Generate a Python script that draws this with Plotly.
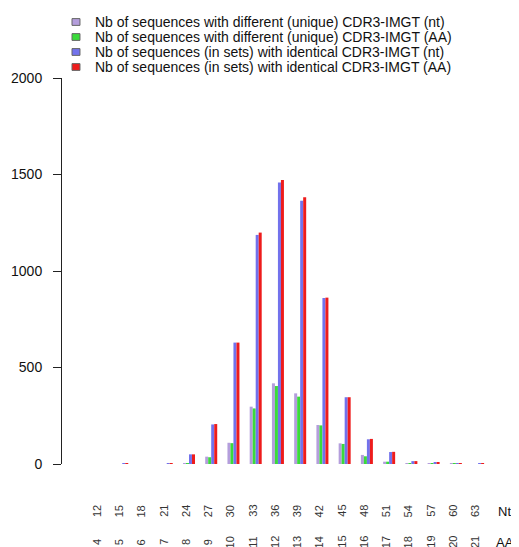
import plotly.graph_objects as go

nt_labels = [12, 15, 18, 21, 24, 27, 30, 33, 36, 39, 42, 45, 48, 51, 54, 57, 60, 63]
aa_labels = [4, 5, 6, 7, 8, 9, 10, 11, 12, 13, 14, 15, 16, 17, 18, 19, 20, 21]

unique_nt = [0, 0, 0, 0, 5, 38, 110, 297, 418, 366, 202, 107, 47, 12, 3, 2, 2, 0]
unique_aa = [0, 0, 0, 0, 5, 35, 108, 288, 404, 349, 200, 104, 40, 12, 3, 2, 2, 0]
sets_nt = [0, 1, 0, 1, 50, 205, 629, 1187, 1458, 1364, 860, 346, 128, 62, 15, 6, 4, 1]
sets_aa = [0, 1, 0, 1, 50, 207, 629, 1199, 1472, 1382, 862, 346, 130, 63, 15, 6, 4, 1]

series_names = [
    "Nb of sequences with different (unique) CDR3-IMGT (nt)",
    "Nb of sequences with different (unique) CDR3-IMGT (AA)",
    "Nb of sequences (in sets) with identical CDR3-IMGT (nt)",
    "Nb of sequences (in sets) with identical CDR3-IMGT (AA)",
]
series_values = [unique_nt, unique_aa, sets_nt, sets_aa]
colors = ["#B49EDC", "#3ADB3A", "#7272EC", "#EE1C1C"]
offsets = [-0.135, 0.0, 0.135, 0.27]
bar_w = 0.135

idx = list(range(len(nt_labels)))
FONT = "Liberation Sans, Arial, sans-serif"

fig = go.Figure()
for name, vals, col, off in zip(series_names, series_values, colors, offsets):
    fig.add_trace(go.Bar(
        x=idx, y=vals, name=name, marker=dict(color=col, line=dict(width=0)),
        width=bar_w, offset=off, showlegend=False,
    ))

annotations = []
# x tick labels (Nt row and AA row)
for i, (n, a) in enumerate(zip(nt_labels, aa_labels)):
    annotations.append(dict(x=i, y=-0.1218, xref="x", yref="paper", text=str(n),
                            textangle=-90, showarrow=False, xanchor="center", yanchor="middle",
                            font=dict(family=FONT, size=11, color="#333")))
    annotations.append(dict(x=i, y=-0.2021, xref="x", yref="paper", text=str(a),
                            textangle=-90, showarrow=False, xanchor="center", yanchor="middle",
                            font=dict(family=FONT, size=11, color="#333")))
annotations.append(dict(x=1.035, y=-0.1218, xref="paper", yref="paper", text="Nt",
                        showarrow=False, xanchor="center", yanchor="middle",
                        font=dict(family=FONT, size=13, color="#111")))
annotations.append(dict(x=1.035, y=-0.2021, xref="paper", yref="paper", text="AA",
                        showarrow=False, xanchor="center", yanchor="middle",
                        font=dict(family=FONT, size=13, color="#111")))

# manual legend
shapes = []
row_y = [1.1451, 1.1062, 1.0674, 1.0285]
for name, col, yy in zip(series_names, colors, row_y):
    shapes.append(dict(type="rect", xref="paper", yref="paper",
                       x0=0.0234, x1=0.042, y0=yy - 0.0088, y1=yy + 0.0088,
                       fillcolor=col, line=dict(color="#666", width=1)))
    annotations.append(dict(x=0.073, y=yy, xref="paper", yref="paper", text=name,
                            showarrow=False, xanchor="left", yanchor="middle",
                            font=dict(family=FONT, size=14, color="#111")))

# the page body adds an 8px margin; the figure is sized so the plot area
# lands at x 62..490, y 78..464 of the window
fig.update_layout(
    width=511, height=539,
    margin=dict(l=54, r=29, t=70, b=83, autoexpand=False),
    paper_bgcolor="white", plot_bgcolor="white",
    barmode="overlay",
    font=dict(family=FONT, color="#111"),
    xaxis=dict(range=[-1.574, 17.67], showticklabels=False, showgrid=False,
               zeroline=False, showline=False, ticks="", automargin=False),
    yaxis=dict(range=[0, 2000], tickvals=[0, 500, 1000, 1500, 2000],
               showline=True, linecolor="#222", linewidth=1,
               ticks="outside", ticklen=8, tickcolor="#222", tickwidth=1,
               ticklabelstandoff=8, automargin=False,
               showgrid=False, zeroline=False,
               tickfont=dict(family=FONT, size=14, color="#111")),
    annotations=annotations,
    shapes=shapes,
)

fig.write_html("out.html")
